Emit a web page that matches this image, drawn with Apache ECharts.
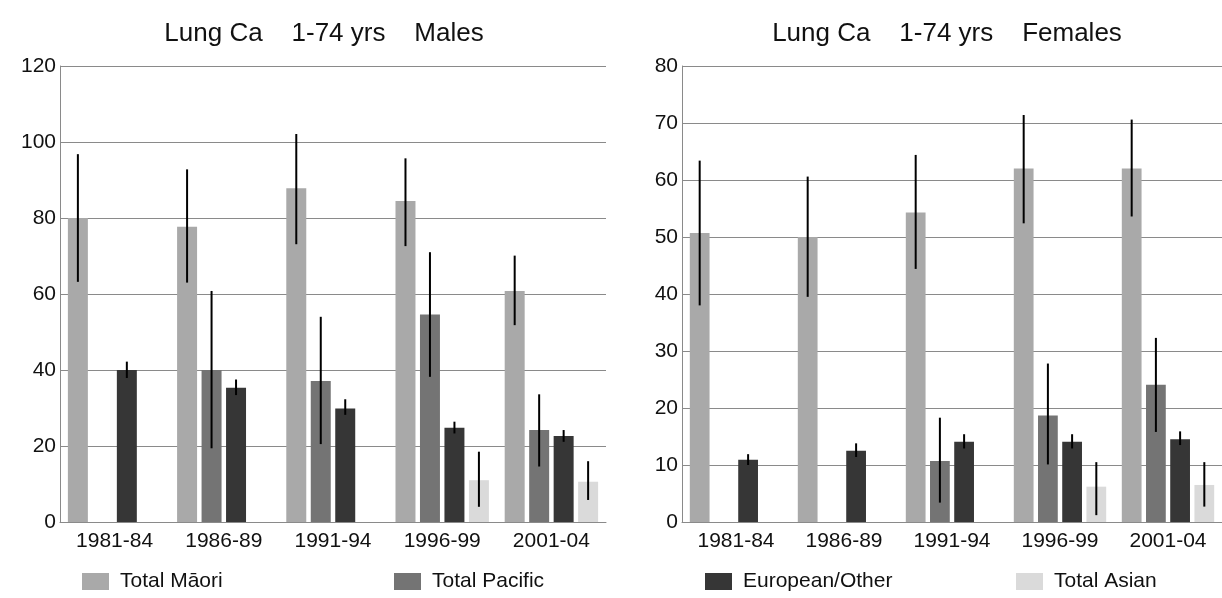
<!DOCTYPE html>
<html>
<head>
<meta charset="utf-8">
<script src="https://cdn.jsdelivr.net/npm/echarts@6/dist/echarts.min.js"></script>
<style>
html,body{margin:0;padding:0;background:#fff;}
#chart{width:1222px;height:598px;}
</style>
</head>
<body>
<div id="chart"></div>
<script>
const categories = ['1981-84', '1986-89', '1991-94', '1996-99', '2001-04'];
const seriesNames = ['Total Māori', 'Total Pacific', 'European/Other', 'Total Asian'];
const titles = ['Lung Ca    1-74 yrs    Males', 'Lung Ca    1-74 yrs    Females'];

// Males
const maleMaori     = [80, 77.7, 87.8, 84.5, 60.8];
const maleMaoriLo   = [63.2, 63, 73.1, 72.6, 51.8];
const maleMaoriHi   = [96.8, 92.8, 102.1, 95.7, 70.1];
const malePacific   = [null, 40, 37.1, 54.6, 24.2];
const malePacificLo = [null, 19.4, 20.5, 38.2, 14.6];
const malePacificHi = [null, 60.8, 54, 71, 33.6];
const maleEuro      = [40, 35.3, 29.9, 24.8, 22.6];
const maleEuroLo    = [37.9, 33.4, 28.2, 23.3, 21.1];
const maleEuroHi    = [42.2, 37.5, 32.3, 26.4, 24.2];
const maleAsian     = [null, null, null, 11, 10.6];
const maleAsianLo   = [null, null, null, 4, 5.8];
const maleAsianHi   = [null, null, null, 18.5, 16];

// Females
const femaleMaori     = [50.7, 50, 54.3, 62, 62];
const femaleMaoriLo   = [38, 39.5, 44.4, 52.4, 53.6];
const femaleMaoriHi   = [63.4, 60.6, 64.4, 71.4, 70.6];
const femalePacific   = [null, null, 10.7, 18.7, 24.1];
const femalePacificLo = [null, null, 3.4, 10.1, 15.8];
const femalePacificHi = [null, null, 18.3, 27.8, 32.3];
const femaleEuro      = [10.9, 12.5, 14.1, 14.1, 14.5];
const femaleEuroLo    = [10, 11.4, 12.9, 12.9, 13.5];
const femaleEuroHi    = [11.9, 13.8, 15.4, 15.4, 15.9];
const femaleAsian     = [null, null, null, 6.2, 6.5];
const femaleAsianLo   = [null, null, null, 1.2, 2.7];
const femaleAsianHi   = [null, null, null, 10.5, 10.5];

const maleTicks = [0, 20, 40, 60, 80, 100, 120];
const femaleTicks = [0, 10, 20, 30, 40, 50, 60, 70, 80];

const colors = ['#a9a9a9', '#747474', '#363636', '#dadada'];
const FONT = 'Liberation Sans, Arial, sans-serif';
const BAR_W = 0.183;   // fraction of band
const BAR_GAP = 0.225; // fraction of bar width

const chart = echarts.init(document.getElementById('chart'));

function errData(lo, hi) {
  const out = [];
  for (let i = 0; i < categories.length; i++) {
    if (lo[i] != null && hi[i] != null) out.push([i, lo[i], hi[i]]);
  }
  return out;
}

function errSeries(gridIdx, slot, lo, hi) {
  return {
    type: 'custom',
    name: 'err' + gridIdx + '_' + slot,
    xAxisIndex: gridIdx,
    yAxisIndex: gridIdx,
    data: errData(lo, hi),
    silent: true,
    z: 5,
    renderItem: function (params, api) {
      const i = api.value(0);
      const p1 = api.coord([i, api.value(1)]);
      const p2 = api.coord([i, api.value(2)]);
      const band = api.size([1, 0])[0];
      const stride = band * BAR_W * (1 + BAR_GAP);
      const x = p1[0] + (slot - 1.5) * stride;
      return {
        type: 'line',
        shape: { x1: x, y1: p1[1], x2: x, y2: p2[1] },
        style: { stroke: '#000', lineWidth: 2 }
      };
    }
  };
}

function barSeries(gridIdx, slot, values) {
  return {
    type: 'bar',
    name: seriesNames[slot],
    xAxisIndex: gridIdx,
    yAxisIndex: gridIdx,
    data: values,
    barWidth: (BAR_W * 100) + '%',
    barGap: (BAR_GAP * 100) + '%',
    itemStyle: { color: colors[slot] },
    silent: true
  };
}

function xAxis(gridIdx) {
  return {
    type: 'category',
    gridIndex: gridIdx,
    data: categories,
    axisLine: { show: true, lineStyle: { color: '#8a8a8a', width: 1 } },
    axisTick: { show: false },
    axisLabel: { fontFamily: FONT, fontSize: 21, color: '#111', margin: 9 }
  };
}

function yAxis(gridIdx, ticks) {
  return {
    type: 'value',
    gridIndex: gridIdx,
    min: ticks[0],
    max: ticks[ticks.length - 1],
    interval: ticks[1] - ticks[0],
    axisLine: { show: true, lineStyle: { color: '#8a8a8a', width: 1 } },
    axisTick: { show: false },
    axisLabel: { fontFamily: FONT, fontSize: 21, color: '#111', margin: 4 },
    splitLine: { show: true, lineStyle: { color: '#8a8a8a', width: 1 } }
  };
}

function legend(name, left) {
  return {
    data: [name],
    left: left,
    top: 571,
    padding: 0,
    icon: 'rect',
    itemWidth: 27,
    itemHeight: 17,
    itemGap: 10,
    selectedMode: false,
    textStyle: { fontFamily: FONT, fontSize: 21, color: '#111', padding: [0, 0, 0, 6] }
  };
}

const option = {
  backgroundColor: '#fff',
  animation: false,
  title: [
    { text: titles[0], left: 319, top: 16, textAlign: 'center',
      textStyle: { fontFamily: FONT, fontSize: 26, fontWeight: 'normal', color: '#111' } },
    { text: titles[1], left: 942, top: 16, textAlign: 'center',
      textStyle: { fontFamily: FONT, fontSize: 26, fontWeight: 'normal', color: '#111' } }
  ],
  legend: [
    legend(seriesNames[0], 82),
    legend(seriesNames[1], 394),
    legend(seriesNames[2], 705),
    legend(seriesNames[3], 1016)
  ],
  grid: [
    { left: 60, top: 66, width: 546, height: 456 },
    { left: 682, top: 66, width: 546, height: 456 }
  ],
  xAxis: [xAxis(0), xAxis(1)],
  yAxis: [yAxis(0, maleTicks), yAxis(1, femaleTicks)],
  series: [
    barSeries(0, 0, maleMaori),
    barSeries(0, 1, malePacific),
    barSeries(0, 2, maleEuro),
    barSeries(0, 3, maleAsian),
    errSeries(0, 0, maleMaoriLo, maleMaoriHi),
    errSeries(0, 1, malePacificLo, malePacificHi),
    errSeries(0, 2, maleEuroLo, maleEuroHi),
    errSeries(0, 3, maleAsianLo, maleAsianHi),
    barSeries(1, 0, femaleMaori),
    barSeries(1, 1, femalePacific),
    barSeries(1, 2, femaleEuro),
    barSeries(1, 3, femaleAsian),
    errSeries(1, 0, femaleMaoriLo, femaleMaoriHi),
    errSeries(1, 1, femalePacificLo, femalePacificHi),
    errSeries(1, 2, femaleEuroLo, femaleEuroHi),
    errSeries(1, 3, femaleAsianLo, femaleAsianHi)
  ]
};

chart.setOption(option);
</script>
</body>
</html>
